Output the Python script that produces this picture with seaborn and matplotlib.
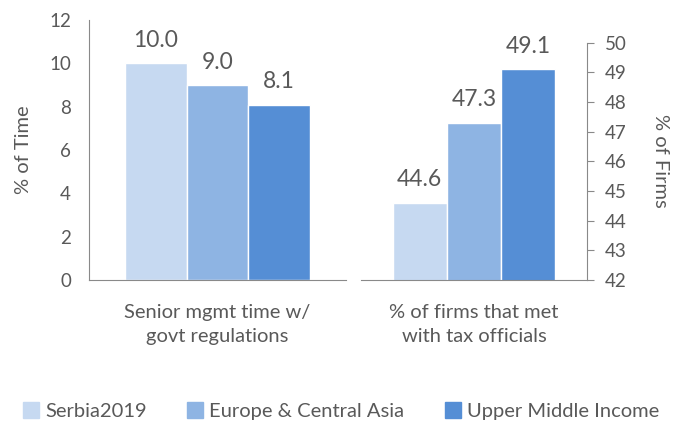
import pandas as pd
import numpy as np
import matplotlib
matplotlib.use('Agg')
import matplotlib.pyplot as plt
import seaborn as sns

series = ["Serbia2019", "Europe & Central Asia", "Upper Middle Income"]
colors = ["#C6D9F1", "#8EB4E3", "#558ED5"]
time_label = "Senior mgmt time w/\ngovt regulations"
time_vals = [10.0, 9.0, 8.1]
firms_label = "% of firms that met\nwith tax officials"
firms_vals = [44.6, 47.3, 49.1]

sns.set_style("white")
plt.rcParams['font.family'] = ['Lato', 'DejaVu Sans']
grey = "#595959"
spine_c = "#898989"

left_df = pd.DataFrame({"cat": [time_label] * 3, "series": series, "val": time_vals})
right_df = pd.DataFrame({"cat": [firms_label] * 3, "series": series, "val": firms_vals})
pal = dict(zip(series, colors))

fig = plt.figure(figsize=(6.82, 4.24), dpi=100)
ax1 = fig.add_axes([89/682, 144/424, 257/682, 260/424])
ax2 = fig.add_axes([361/682, 144/424, 226/682, 237.3/424])

for ax, df in [(ax1, left_df), (ax2, right_df)]:
    sns.barplot(data=df, x="cat", y="val", hue="series", palette=pal, width=0.72,
                saturation=1, edgecolor="white", linewidth=1, ax=ax, legend=False)
    for c in ax.containers:
        ax.bar_label(c, fmt="%.1f", padding=9, fontsize=16.5, color=grey)
    ax.set_xlim(-0.5, 0.5)
    ax.set_xlabel("")
    ax.set_xticks([-0.5, 0.5], minor=True)
    ax.tick_params(axis="x", which="major", length=0, pad=17, labelsize=14.5, labelcolor=grey)
    ax.tick_params(axis="x", which="minor", length=5, color=spine_c, direction="out")
    ax.tick_params(axis="y", length=5, color=spine_c, labelsize=13.5, labelcolor=grey,
                   direction="out", pad=8)
    for t in ax.get_xticklabels():
        t.set_linespacing(1.55)
    ax.spines["top"].set_visible(False)
    ax.spines["bottom"].set_color(spine_c)

ax1.set_ylim(0, 12)
ax1.set_yticks(np.arange(0, 13, 2))
ax1.spines["right"].set_visible(False)
ax1.spines["left"].set_color(spine_c)
ax1.set_ylabel("% of Time", fontsize=14.5, color=grey, labelpad=12)

ax2.set_ylim(42, 50)
ax2.set_yticks(np.arange(42, 51, 1))
ax2.yaxis.tick_right()
ax2.yaxis.set_label_position("right")
ax2.spines["left"].set_visible(False)
ax2.spines["right"].set_color(spine_c)
ax2.set_ylabel("% of Firms", fontsize=14.5, color=grey, rotation=270, labelpad=30)

handles = [matplotlib.patches.Patch(color=c) for c in colors]
fig.legend(handles, series, loc="center", bbox_to_anchor=(0.5, 1 - 411/424), ncol=3,
           frameon=False, fontsize=14.5, labelcolor=grey, handlelength=0.8, handleheight=0.8,
           handletextpad=0.3, columnspacing=2.0)

fig.savefig("out.png", dpi=100)
